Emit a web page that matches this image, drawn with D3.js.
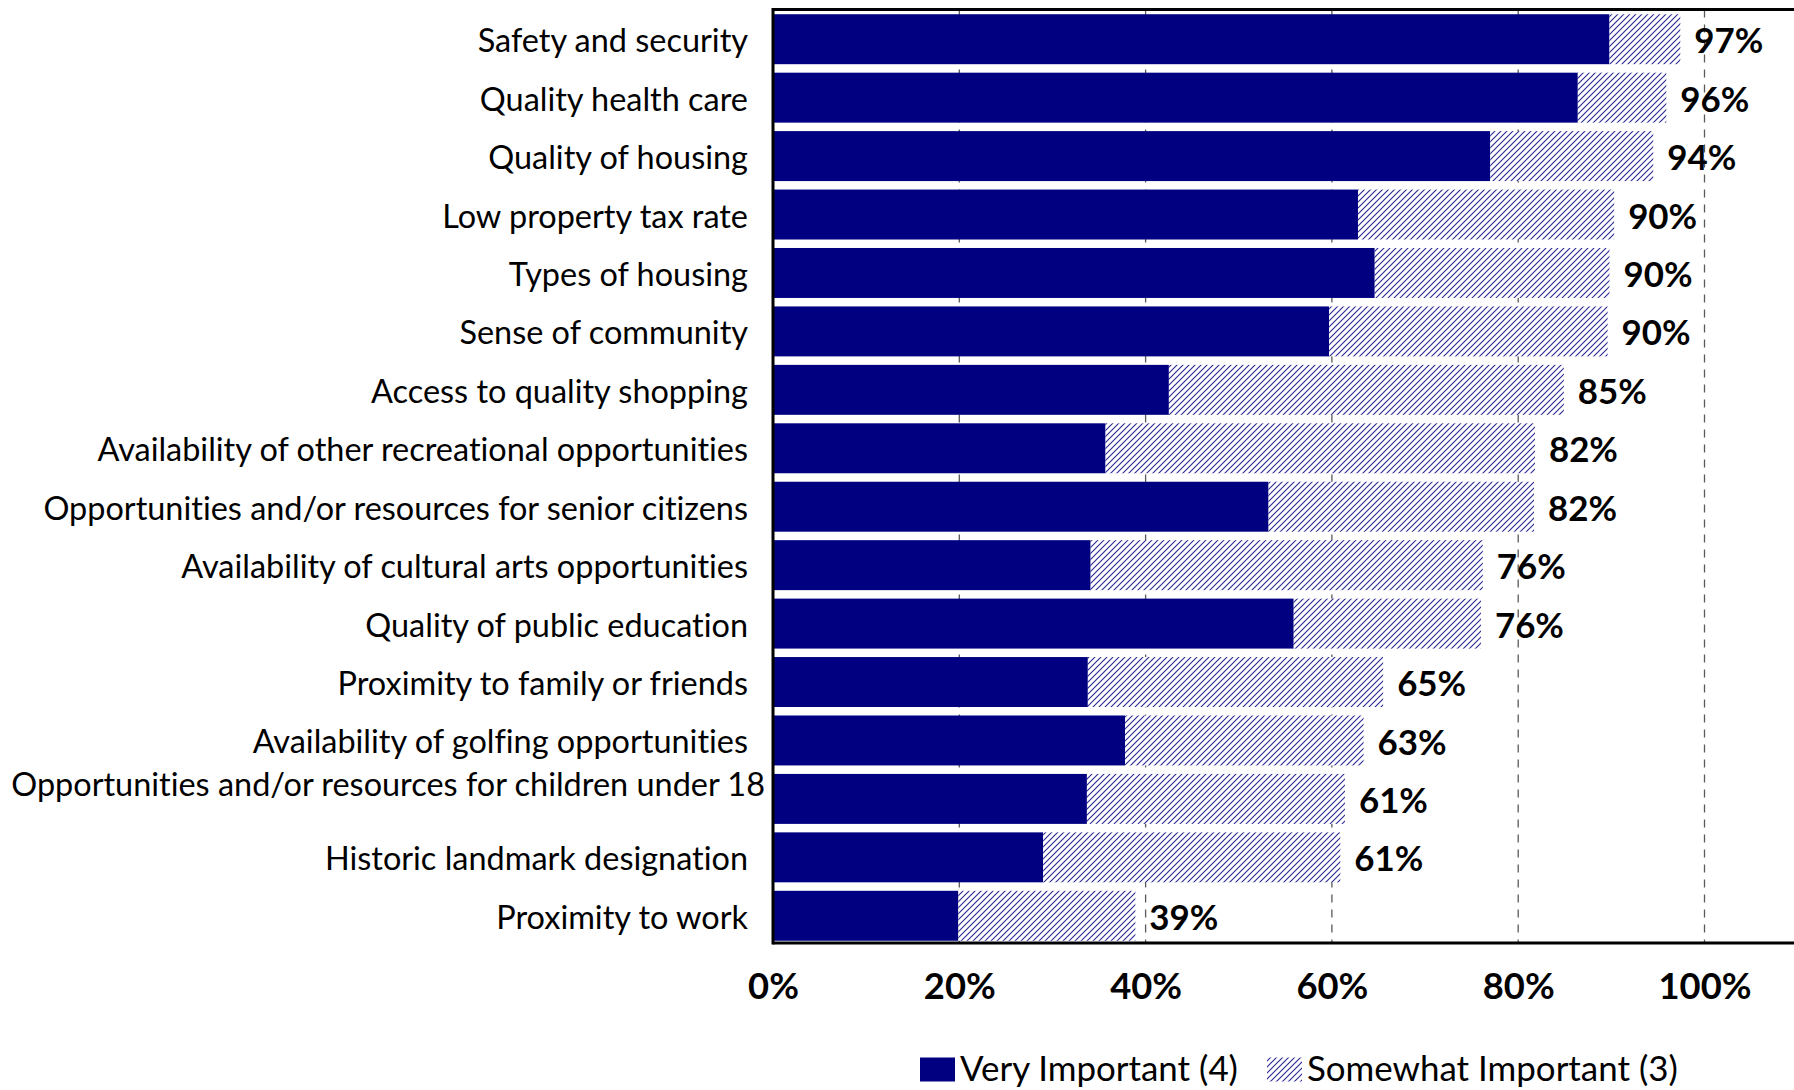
<!DOCTYPE html>
<html>
<head>
<meta charset="utf-8">
<script src="https://cdn.jsdelivr.net/npm/d3@7/dist/d3.min.js"></script>
<style>
  html, body { margin: 0; padding: 0; background: #fff; }
  svg { display: block; }
  text { font-variant-ligatures: none; font-feature-settings: "liga" 0; }
</style>
</head>
<body>
<svg id="chart" width="1794" height="1090"></svg>
<script>
const categories = [
  "Safety and security",
  "Quality health care",
  "Quality of housing",
  "Low property tax rate",
  "Types of housing",
  "Sense of community",
  "Access to quality shopping",
  "Availability of other recreational opportunities",
  "Opportunities and/or resources for senior citizens",
  "Availability of cultural arts opportunities",
  "Quality of public education",
  "Proximity to family or friends",
  "Availability of golfing opportunities",
  "Opportunities and/or resources for children under 18",
  "Historic landmark designation",
  "Proximity to work"
];
const veryImportant = [89.8, 86.4, 77.0, 62.8, 64.6, 59.7, 42.5, 35.7, 53.2, 34.1, 55.9, 33.8, 37.8, 33.7, 29.0, 19.9];
const somewhatImportant = [7.6, 9.5, 17.5, 27.5, 25.2, 29.9, 42.4, 46.1, 28.5, 42.1, 20.1, 31.7, 25.6, 27.7, 31.9, 19.0];
const totalLabels = ["97%", "96%", "94%", "90%", "90%", "90%", "85%", "82%", "82%", "76%", "76%", "65%", "63%", "61%", "61%", "39%"];
const xTicks = [0, 20, 40, 60, 80, 100];
const seriesNames = ["Very Important (4)", "Somewhat Important (3)"];

const W = 1794, H = 1090;
const svg = d3.select("#chart");
const FONT = "Lato, 'Open Sans', sans-serif";
const NAVY = "#000080";

function fitSize(text, weight, target) {
  const t = svg.append("text").attr("font-family", FONT).attr("font-weight", weight)
    .attr("font-size", 100).text(text);
  const w = t.node().getComputedTextLength();
  t.remove();
  return 100 * target / w;
}
const catSize = fitSize(categories[13], "normal", 754);
const valSize = fitSize("90%", "bold", 69);
const tickSize = fitSize("100%", "bold", 93);
const legSize = fitSize(seriesNames[0], "normal", 278);

const plotLeft = 773, plotTop = 9.5, plotBottom = 943;
const x = d3.scaleLinear().domain([0, 100]).range([plotLeft, 1704.5]);
const y = d3.scaleBand().domain(categories).range([10, 945])
  .paddingInner(0.145).paddingOuter(0.0725);

const defs = svg.append("defs");
const pat = defs.append("pattern").attr("id", "hatch")
  .attr("patternUnits", "userSpaceOnUse").attr("width", 6).attr("height", 6);
pat.append("rect").attr("width", 6).attr("height", 6).attr("fill", "#fff");
pat.append("path").attr("d", "M0,6 L6,0 M-1.5,1.5 L1.5,-1.5 M4.5,7.5 L7.5,4.5")
  .attr("stroke", "#2a2a95").attr("stroke-width", 1.15);

svg.append("g").selectAll("line").data(xTicks.filter(d => d > 0)).join("line")
  .attr("x1", d => x(d)).attr("x2", d => x(d))
  .attr("y1", plotTop).attr("y2", plotBottom)
  .attr("stroke", "#5a5a5a").attr("stroke-width", 1.3)
  .attr("stroke-dasharray", "8,7");

const rows = categories.map((c, i) => ({c, v: veryImportant[i], s: somewhatImportant[i], lab: totalLabels[i]}));
const g = svg.append("g");
g.selectAll("rect.v").data(rows).join("rect").attr("class", "v")
  .attr("x", x(0)).attr("y", d => y(d.c))
  .attr("width", d => x(d.v) - x(0)).attr("height", y.bandwidth())
  .attr("fill", NAVY);
g.selectAll("rect.s").data(rows).join("rect").attr("class", "s")
  .attr("x", d => x(d.v)).attr("y", d => y(d.c))
  .attr("width", d => x(d.v + d.s) - x(d.v)).attr("height", y.bandwidth())
  .attr("fill", "url(#hatch)");

g.selectAll("text.val").data(rows).join("text").attr("class", "val")
  .attr("x", d => x(d.v + d.s) + 14)
  .attr("y", d => y(d.c) + y.bandwidth() / 2 + 1.5 + valSize * 0.36)
  .attr("font-family", FONT).attr("font-weight", "bold").attr("font-size", valSize)
  .attr("fill", "#000").text(d => d.lab);

svg.append("g").selectAll("text").data(categories).join("text")
  .attr("x", (d, i) => i === 13 ? 765 : 748)
  .attr("y", (d, i) => y(d) + y.bandwidth() / 2 + 13 - (i === 13 ? 15.5 : 0))
  .attr("text-anchor", "end")
  .attr("font-family", FONT).attr("font-size", catSize).attr("fill", "#000")
  .text(d => d);

const frame = svg.append("g").attr("stroke", "#000").attr("stroke-width", 3);
frame.append("line").attr("x1", plotLeft).attr("x2", W).attr("y1", plotTop).attr("y2", plotTop);
frame.append("line").attr("x1", plotLeft).attr("x2", W).attr("y1", plotBottom).attr("y2", plotBottom);
frame.append("line").attr("x1", plotLeft).attr("x2", plotLeft).attr("y1", plotTop - 1.5).attr("y2", plotBottom + 1.5);

const xAxis = d3.axisBottom(x).tickValues(xTicks).tickSize(0).tickPadding(0)
  .tickFormat(d => d + "%");
const ax = svg.append("g").attr("transform", `translate(0, ${999 - tickSize * 0.72})`).call(xAxis);
ax.select(".domain").remove();
ax.selectAll("text").attr("font-family", FONT).attr("font-weight", "bold")
  .attr("font-size", tickSize).attr("fill", "#000").attr("dy", null)
  .attr("y", tickSize * 0.72);

const leg = svg.append("g");
const legBase = 1081;
leg.append("rect").attr("x", 920).attr("y", legBase - 23.5).attr("width", 35).attr("height", 24).attr("fill", NAVY);
leg.append("text").attr("x", 960).attr("y", legBase).attr("font-family", FONT)
  .attr("font-size", legSize).attr("fill", "#000").text(seriesNames[0]);
leg.append("rect").attr("x", 1267).attr("y", legBase - 23.5).attr("width", 35).attr("height", 24).attr("fill", "url(#hatch)");
leg.append("text").attr("x", 1307).attr("y", legBase).attr("font-family", FONT)
  .attr("font-size", legSize).attr("fill", "#000").text(seriesNames[1]);
</script>
</body>
</html>
